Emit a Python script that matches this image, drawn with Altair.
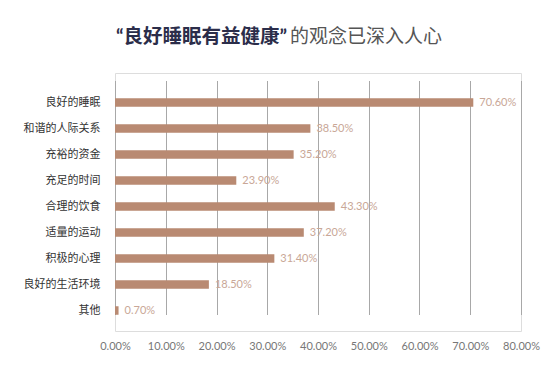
import altair as alt
import pandas as pd

categories = ["良好的睡眠", "和谐的人际关系", "充裕的资金", "充足的时间", "合理的饮食",
              "适量的运动", "积极的心理", "良好的生活环境", "其他"]
values = [0.706, 0.385, 0.352, 0.239, 0.433, 0.372, 0.314, 0.185, 0.007]
ticks = [0.0, 0.1, 0.2, 0.3, 0.4, 0.5, 0.6, 0.7, 0.8]
title_bold = "“良好睡眠有益健康”"
title_rest = "的观念已深入人心"

df = pd.DataFrame({"cat": categories, "val": values})

FONT = "Lato, 'Noto Sans CJK SC', sans-serif"

y_enc = alt.Y("cat:N", sort=categories,
              scale=alt.Scale(range=[16.5, 250.5], paddingInner=0, paddingOuter=0),
              axis=alt.Axis(title=None, ticks=False, domain=False, labelFontSize=11,
                            labelColor="#333333", labelPadding=15, labelFont=FONT))
x_enc = alt.X("val:Q", scale=alt.Scale(domain=[0, 0.8]),
              axis=alt.Axis(title=None, format=".2%", values=ticks,
                            ticks=False, domain=False, grid=True, gridColor="#a8a8a8",
                            gridWidth=1, labelFontSize=11, labelColor="#777777",
                            labelPadding=9, labelFont=FONT, labelOverlap=False,
                            labelFlush=False))

bars = alt.Chart(df).mark_bar(size=8.5, color="#b98a72").encode(x=x_enc, y=y_enc)
labels = alt.Chart(df).mark_text(align="left", baseline="middle", dx=6, fontSize=11,
                                 color="#c9a797", font=FONT).encode(
    x="val:Q", y=alt.Y("cat:N", sort=categories), text=alt.Text("val:Q", format=".2%"))

t1 = alt.Chart(pd.DataFrame({"t": [title_bold]})).mark_text(
    align="left", baseline="middle", fontSize=19.5, fontWeight="bold", color="#2b2d4a",
    font=FONT).encode(x=alt.value(1), y=alt.value(-36), text="t:N")
t2 = alt.Chart(pd.DataFrame({"t": [title_rest]})).mark_text(
    align="left", baseline="middle", fontSize=19, color="#555555",
    font=FONT).encode(x=alt.value(175), y=alt.value(-36), text="t:N")

chart = alt.layer(bars, labels, t1, t2).properties(
    width=406, height=258,
    autosize=alt.AutoSizeParams(type="none"),
    padding={"left": 107, "top": 65, "right": 30, "bottom": 40},
).configure_view(stroke=None).configure(background="white")

chart.save("out.html", embed_options={"renderer": "svg", "actions": False})
